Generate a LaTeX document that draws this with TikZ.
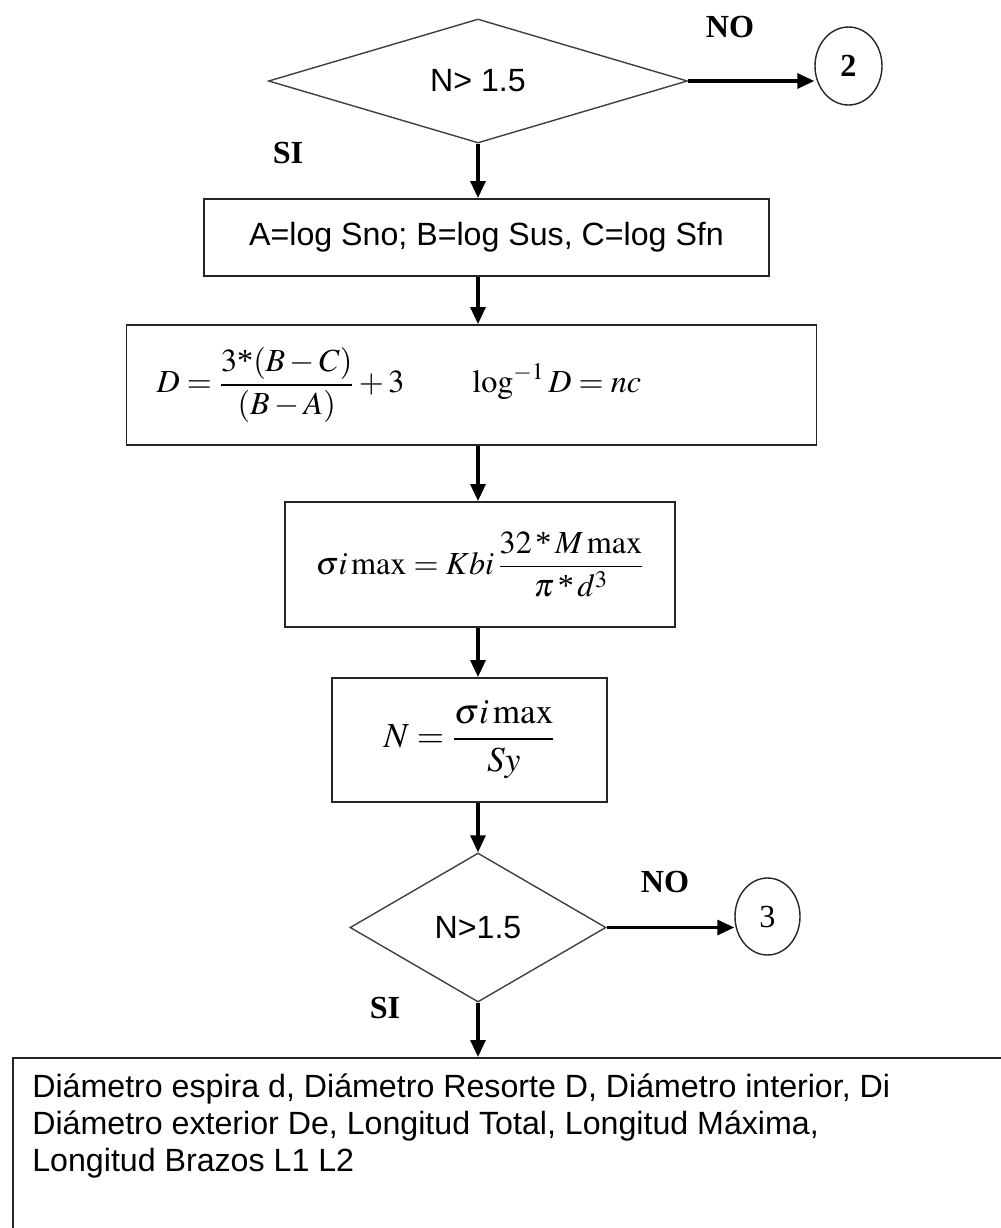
\documentclass[tikz,border=0pt]{standalone}
\usepackage{mathptmx}
\usepackage[no-math]{fontspec}
\setmainfont{Liberation Sans}
\newfontfamily\tnr{Liberation Serif}
\usetikzlibrary{shapes.geometric,arrows.meta}

\newcommand{\fsz}{\fontsize{18.3}{20.9}\selectfont}
\newcommand{\tms}{\mbox{\tnr *}}

\tikzset{
  box/.style={draw=black!85, line width=1.1pt, rectangle, inner sep=0pt},
  decision/.style={draw=black!75, line width=0.8pt, diamond, inner sep=0pt},
  conn/.style={draw=black!85, line width=0.8pt, ellipse, inner sep=0pt, font=\fsz\tnr\bfseries},
  tag/.style={font=\fsz\tnr\bfseries},
  flow/.style={-{Triangle[length=0.34cm,width=0.3cm]}, line width=1.8pt}
}

\begin{document}
\begin{tikzpicture}[every node/.style={font=\fsz}]
  \useasboundingbox (0,0) rectangle (20,-24.56);

  % First check
  \node[decision, minimum width=8.38cm, minimum height=2.48cm] (d1) at (9.56,-1.62) {N> 1.5};
  \node[tag] (no1) at (14.6,-0.54) {NO};
  \node[conn, minimum width=1.34cm, minimum height=1.56cm] (c2) at (16.97,-1.32) {2};
  \node[tag] (si1) at (5.76,-3.06) {SI};

  % Process boxes
  \node[box, minimum width=11.3cm, minimum height=1.54cm] (b1) at (9.73,-4.75)
    {A=log Sno; B=log Sus, C=log Sfn};
  \node[box, text width=12.6cm, align=left, inner xsep=0.6cm, minimum height=2.4cm] (b2) at (9.43,-7.7)
    {$\displaystyle D=\frac{3\tms(B-C)}{(B-A)}+3 \qquad \log^{-1} D = nc$};
  \node[box, minimum width=7.8cm, minimum height=2.5cm] (b3) at (9.6,-11.29)
    {$\displaystyle \sigma i\max = Kbi\,\frac{32\,\tms\,M\max}{\pi\,\tms\,d^3}$};
  \node[box, minimum width=5.5cm, minimum height=2.48cm, font=\fontsize{20}{24}\selectfont] (b4) at (9.39,-14.8)
    {$\displaystyle N = \frac{\sigma i\max}{Sy}$};

  % Second check
  \node[decision, minimum width=5.12cm, minimum height=2.98cm] (d2) at (9.56,-18.55) {N>1.5};
  \node[tag] (no2) at (13.3,-17.64) {NO};
  \node[conn, font=\fsz\tnr, minimum width=1.3cm, minimum height=1.54cm] (c3) at (15.35,-18.33) {3};
  \node[tag] (si2) at (7.7,-20.16) {SI};

  % Results
  \node[box, anchor=north west, minimum width=21cm, minimum height=4cm] (b5) at (0.24,-21.14) {};
  \node[anchor=north west, align=left, inner sep=0pt] (b5txt) at ([xshift=0.4cm,yshift=-0.33cm]b5.north west)
    {Diámetro espira d, Diámetro Resorte D, Diámetro interior, Di\\
     Diámetro exterior De, Longitud Total, Longitud Máxima,\\
     Longitud Brazos L1 L2};

  % Arrows
  \draw[flow] (d1.east) -- (d1.east -| c2.west);
  \draw[flow] (d1.south) -- (b1.north -| d1.south);
  \draw[flow] (b1.south -| d1) -- (b2.north -| d1);
  \draw[flow] (b2.south -| d1) -- (b3.north -| d1);
  \draw[flow] (b3.south -| d1) -- (b4.north -| d1);
  \draw[flow] (b4.south -| d2) -- (d2.north);
  \draw[flow] (d2.east) -- (d2.east -| c3.west);
  \draw[flow] (d2.south) -- (b5.north -| d2);
\end{tikzpicture}
\end{document}
